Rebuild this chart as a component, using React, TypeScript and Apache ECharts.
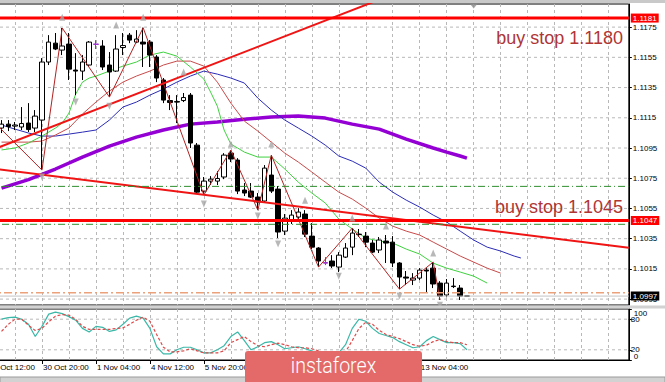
import React, { useEffect, useRef } from "react";
import * as echarts from "echarts";

// ---------- data ----------
const LEAD = 2; // two empty H4 slots before the first visible bar
const SLOTS = 96;
const MONTHS = ["Jan", "Feb", "Mar", "Apr", "May", "Jun", "Jul", "Aug", "Sep", "Oct", "Nov", "Dec"];

// EURUSD H4 bars: [open, high, low, close]
const bars: [number, number, number, number][] = [
  [1.11082, 1.11135, 1.11049, 1.11108], [1.11108, 1.11135, 1.11062, 1.11092], [1.11095, 1.11122, 1.11069, 1.11102],
  [1.11089, 1.11221, 1.11069, 1.11112], [1.11115, 1.11247, 1.11056, 1.11072], [1.11082, 1.11201, 1.11056, 1.11161],
  [1.11135, 1.11545, 1.10804, 1.11519], [1.11519, 1.11697, 1.11499, 1.11651], [1.11644, 1.11711, 1.11598, 1.11605],
  [1.11598, 1.11744, 1.11565, 1.11625], [1.11638, 1.11711, 1.11400, 1.11472], [1.11466, 1.11578, 1.11300, 1.11459],
  [1.11459, 1.11565, 1.11400, 1.11519], [1.11499, 1.11658, 1.11492, 1.11651], [1.11638, 1.11664, 1.11605, 1.11636],
  [1.11625, 1.11664, 1.11466, 1.11486], [1.11499, 1.11585, 1.11287, 1.11453], [1.11459, 1.11697, 1.11453, 1.11605],
  [1.11615, 1.11711, 1.11565, 1.11628], [1.11697, 1.11711, 1.11644, 1.11664], [1.11651, 1.11730, 1.11644, 1.11671],
  [1.11651, 1.11746, 1.11486, 1.11638], [1.11651, 1.11664, 1.11486, 1.11565], [1.11552, 1.11565, 1.11386, 1.11413],
  [1.11400, 1.11413, 1.11247, 1.11267], [1.11264, 1.11300, 1.11201, 1.11251], [1.11257, 1.11300, 1.11115, 1.11254],
  [1.11264, 1.11314, 1.11254, 1.11284], [1.11300, 1.11314, 1.10950, 1.10983], [1.10969, 1.10983, 1.10652, 1.10658],
  [1.10665, 1.10758, 1.10639, 1.10731], [1.10731, 1.10764, 1.10705, 1.10744], [1.10731, 1.10797, 1.10705, 1.10748],
  [1.10758, 1.10916, 1.10744, 1.10903], [1.10916, 1.10936, 1.10857, 1.10877], [1.10870, 1.10883, 1.10645, 1.10665],
  [1.10672, 1.10718, 1.10632, 1.10652], [1.10665, 1.10718, 1.10619, 1.10625], [1.10625, 1.10652, 1.10539, 1.10592],
  [1.10599, 1.10837, 1.10586, 1.10817], [1.10771, 1.10903, 1.10652, 1.10665], [1.10678, 1.10698, 1.10354, 1.10394],
  [1.10400, 1.10513, 1.10374, 1.10486], [1.10473, 1.10539, 1.10447, 1.10506], [1.10493, 1.10552, 1.10480, 1.10526],
  [1.10513, 1.10539, 1.10361, 1.10380], [1.10367, 1.10453, 1.10281, 1.10294], [1.10288, 1.10294, 1.10162, 1.10202],
  [1.10192, 1.10228, 1.10175, 1.10188], [1.10202, 1.10241, 1.10156, 1.10169], [1.10162, 1.10261, 1.10129, 1.10241],
  [1.10228, 1.10321, 1.10222, 1.10288], [1.10294, 1.10420, 1.10241, 1.10387], [1.10380, 1.10414, 1.10361, 1.10377],
  [1.10367, 1.10394, 1.10294, 1.10327], [1.10321, 1.10341, 1.10255, 1.10261], [1.10275, 1.10361, 1.10255, 1.10341],
  [1.10334, 1.10374, 1.10189, 1.10321], [1.10327, 1.10367, 1.10162, 1.10189], [1.10189, 1.10195, 1.10016, 1.10096],
  [1.10096, 1.10136, 1.10043, 1.10089], [1.10076, 1.10122, 1.10043, 1.10089], [1.10089, 1.10155, 1.10076, 1.10142],
  [1.10142, 1.10155, 1.09997, 1.10136], [1.10155, 1.10195, 1.10023, 1.10050], [1.10056, 1.10069, 1.09944, 1.09970],
  [1.09977, 1.10083, 1.09962, 1.10056], [1.10036, 1.10089, 1.10023, 1.10033], [1.10023, 1.10043, 1.09944, 1.09970],
  [1.09970, 1.09970, 1.09970, 1.09970],
];
const dojiBars = [14, 48];

// moving averages: [bar index, price]
const maPurple: [number, number][] = [
  [0, 1.10685], [4, 1.10741], [8, 1.10811], [12, 1.1089], [16, 1.10963], [20, 1.11022], [24, 1.11069], [28, 1.11108],
  [32, 1.11122], [36, 1.11141], [40, 1.11155], [44, 1.11161], [48, 1.11148], [52, 1.11108], [56, 1.11075], [60, 1.11009],
  [64, 1.1095], [66, 1.10923], [68, 1.10897], [69, 1.10883],
];
const jaw: [number, number][] = [
  [0, 1.11102], [2, 1.11075], [4, 1.11049], [6, 1.11029], [8, 1.11029], [10, 1.11042], [12, 1.11055], [14, 1.11069],
  [16, 1.11135], [18, 1.11221], [20, 1.11254], [22, 1.113], [24, 1.1134], [26, 1.11386], [28, 1.11426], [30, 1.11459],
  [32, 1.11439], [34, 1.11413], [36, 1.1138], [38, 1.1128], [40, 1.11201], [42, 1.11135], [44, 1.11082], [46, 1.11029],
  [48, 1.10969], [50, 1.10897], [52, 1.10863], [54, 1.10817], [56, 1.10724], [58, 1.10658], [60, 1.10605], [62, 1.10559],
  [64, 1.10506], [66, 1.1046], [68, 1.104], [70, 1.10341], [72, 1.10294], [74, 1.10268], [76, 1.10235], [77, 1.10222],
];
const teeth: [number, number][] = [
  [0, 1.10989], [2, 1.10989], [4, 1.10989], [6, 1.10996], [8, 1.11036], [10, 1.11082], [12, 1.11175], [14, 1.11254],
  [16, 1.11327], [18, 1.11386], [20, 1.11426], [22, 1.11459], [24, 1.11499], [26, 1.11525], [28, 1.11525], [30, 1.11492],
  [32, 1.11386], [34, 1.11247], [36, 1.11128], [38, 1.11062], [40, 1.10989], [42, 1.10916], [44, 1.10857], [46, 1.10791],
  [48, 1.10724], [50, 1.10658], [52, 1.10612], [54, 1.10552], [56, 1.10486], [58, 1.10433], [60, 1.104], [62, 1.10374],
  [64, 1.10327], [66, 1.10281], [68, 1.10235], [70, 1.10195], [72, 1.10155], [74, 1.10122],
];
const lips: [number, number][] = [
  [0, 1.10937], [2, 1.1095], [4, 1.10983], [6, 1.11029], [8, 1.11082], [9, 1.11115], [10, 1.11181], [11, 1.11307],
  [12, 1.11386], [13, 1.11413], [14, 1.11426], [16, 1.11459], [18, 1.11492], [20, 1.11519], [22, 1.11565], [24, 1.11585],
  [26, 1.11558], [28, 1.11486], [30, 1.11406], [31, 1.1132], [32, 1.11227], [33, 1.11069], [34, 1.10976], [35, 1.1095],
  [36, 1.10923], [38, 1.1089], [40, 1.1089], [42, 1.10811], [44, 1.10724], [46, 1.10652], [48, 1.10586], [50, 1.1048],
  [52, 1.10414], [54, 1.10354], [56, 1.10334], [58, 1.10321], [60, 1.10281], [62, 1.10248], [64, 1.10188], [66, 1.10155],
  [68, 1.10129], [70, 1.10102], [72, 1.10056],
];
const zigzag: [number, number][] = [
  [-2, 1.11161], [6, 1.10804], [9, 1.11744], [16, 1.11287], [21, 1.11746], [30, 1.10639], [34, 1.10936], [38, 1.10539],
  [40, 1.10903], [47, 1.10162], [52, 1.1042], [59, 1.10016], [64, 1.10195], [65, 1.09944],
];
const fractalsUp: [number, number][] = [
  [9, 1.11816], [17, 1.11764], [21, 1.11816], [27, 1.11453], [34, 1.10976], [40, 1.10976], [45, 1.10605],
  [52, 1.10486], [57, 1.10433], [64, 1.10255],
];
const fractalsDown: [number, number][] = [
  [6, 1.10758], [11, 1.11254], [16, 1.11227], [30, 1.10579], [38, 1.105], [41, 1.10314], [50, 1.10102],
  [59, 1.0997], [65, 1.0991],
];
const trendUp: [number, number][] = [[-2, 1.10927], [60, 1.12001]];
const trendDown: [number, number][] = [[-2, 1.10818], [93, 1.1029]];

const buyStopHigh = 1.1181;
const buyStopLow = 1.1047;
const greenLevels = [1.10696, 1.10445];
const orangeLevel = 1.09992;
const bidPrice = 1.0997;

const stochK = [
  80, 83, 84, 80, 70, 46, 66, 90, 94, 91, 85, 78, 62, 55, 66, 64, 56, 59, 70, 82, 86, 82, 62, 26, 12, 12, 20, 25, 25, 20,
  14, 14, 20, 28, 46, 55, 38, 20, 26, 34, 36, 30, 22, 24, 26, 22, 18, 10, 5, 6, 14, 30, 62, 80, 76, 62, 52, 48, 44, 36,
  30, 24, 26, 38, 46, 40, 34, 34, 32, 20,
];
const stochD = [
  56, 70, 80, 80, 68, 58, 62, 75, 86, 89, 88, 80, 66, 60, 60, 60, 60, 62, 63, 70, 78, 84, 76, 50, 25, 16, 16, 18, 22, 18,
  14, 14, 14, 18, 34, 40, 46, 36, 28, 26, 30, 33, 30, 26, 24, 24, 22, 18, 12, 8, 8, 16, 38, 62, 74, 70, 58, 50, 46, 42,
  36, 30, 27, 29, 36, 40, 36, 34, 34, 30,
];

const priceTicks = [1.0995, 1.1015, 1.1035, 1.1055, 1.1075, 1.1095, 1.1115, 1.1135, 1.1155, 1.1175];
const stochBounds = [0, 100];
const stochLevels = [20, 80];
const shiftSlot = 70;

// ---------- helpers ----------
function makeCategories(): string[] {
  const out: string[] = [];
  let t = Date.UTC(2019, 9, 29, 12);
  while (out.length < SLOTS) {
    const d = new Date(t);
    const wd = d.getUTCDay();
    if (wd !== 0 && wd !== 6) {
      out.push(`${d.getUTCDate()} ${MONTHS[d.getUTCMonth()]} ${String(d.getUTCHours()).padStart(2, "0")}:00`);
    }
    t += 4 * 3600 * 1000;
  }
  return out;
}
const toK = (pts: [number, number][]) => pts.map(([i, v]) => [i + LEAD, v]);
const across = (v: number) => [[0, v], [SLOTS - 1, v]];

const FONT = '"Liberation Sans", Arial, sans-serif';
const Y_MIN = 1.09911;
const Y_MAX = 1.11903;
const LAST_SLOT = LEAD + bars.length - 1;

function buildOption() {
  const cats = makeCategories();
  const candleData = cats.map((_, k) => {
    const b = bars[k - LEAD];
    if (!b) return "-";
    const [o, h, l, c] = b;
    const item: any = { value: [o, c, l, h] };
    if (dojiBars.includes(k - LEAD)) item.itemStyle = { color: "#9a32cd", borderColor: "#9a32cd", color0: "#9a32cd", borderColor0: "#9a32cd" };
    return item;
  });
  const gridLine = { show: true, interval: (i: number) => i % 4 === 0, lineStyle: { color: "#b8b8b8", type: [3, 3] as any, width: 1 } };
  const labelSlot = (i: number) => i % 8 === 0 && i <= LAST_SLOT;
  const boxLabel = (txt: string, bg: string) => ({
    show: true, distance: 2, formatter: txt, backgroundColor: bg, color: "#fff",
    fontSize: 8, fontFamily: FONT, lineHeight: 9, padding: [0, 2, 0, 2],
  });
  const line = (name: string, data: any[], color: string, width: number, z: number, extra: any = {}) => ({
    name, type: "line", xAxisIndex: 0, yAxisIndex: 0, data, symbol: "none", z, silent: true,
    lineStyle: { color, width }, ...extra,
  });
  const level = (name: string, v: number, color: string, width: number, type: any, z: number, label?: any) =>
    line(name, across(v), color, width, z, {
      lineStyle: { color, width, type },
      ...(label ? { endLabel: label } : {}),
    });
  const stochAxis = (values: number[], extra: any = {}) => ({
    type: "value", gridIndex: 1, position: "right", min: 0, max: 100,
    axisLine: { show: true, lineStyle: { color: "#000" } },
    axisTick: { show: true, customValues: values, length: 3, lineStyle: { color: "#000" } },
    axisLabel: { customValues: values, fontSize: 8, fontFamily: FONT, color: "#000", margin: 3, showMinLabel: true, showMaxLabel: true, ...extra },
    splitLine: { show: false },
  });

  return {
    animation: false,
    backgroundColor: "#ffffff",
    grid: [
      { left: -11.98, right: 36.18, top: 4, height: 301, show: true, borderColor: "#000", borderWidth: 1, outerBoundsMode: "none", containLabel: false },
      { left: -11.98, right: 36.18, top: 309, height: 51, show: true, borderColor: "#000", borderWidth: 1, outerBoundsMode: "none", containLabel: false },
    ],
    xAxis: [
      {
        type: "category", gridIndex: 0, data: cats, boundaryGap: false,
        axisLine: { show: false }, axisTick: { show: false }, axisLabel: { show: false }, splitLine: gridLine,
      },
      {
        type: "category", gridIndex: 1, data: cats, boundaryGap: false,
        axisLine: { show: true, lineStyle: { color: "#000" } },
        axisTick: { show: true, interval: labelSlot, length: 4, lineStyle: { color: "#000" } },
        axisLabel: { show: true, interval: labelSlot, align: "left", fontSize: 8, fontFamily: FONT, color: "#000", margin: 3, padding: [0, 0, 0, 1] },
        splitLine: gridLine,
      },
    ],
    yAxis: [
      {
        type: "value", gridIndex: 0, position: "right", min: Y_MIN, max: Y_MAX,
        axisLine: { show: true, lineStyle: { color: "#000" } },
        axisTick: { show: true, customValues: priceTicks, length: 3, lineStyle: { color: "#000" } },
        axisLabel: { customValues: priceTicks, formatter: (v: number) => v.toFixed(4), fontSize: 8, fontFamily: FONT, color: "#000", margin: 4 },
        splitLine: { show: false },
      },
      stochAxis(stochLevels, { margin: 2 }),
      stochAxis(stochBounds, { margin: 5, verticalAlignMaxLabel: "top", verticalAlignMinLabel: "bottom" }),
    ],
    series: [
      // horizontal price grid
      ...priceTicks.map((v) => level("grid" + v, v, "#b8b8b8", 1, [3, 3], 1)),
      line("MA200", toK(maPurple), "#9400d3", 3.5, 2),
      line("Jaw", toK(jaw), "#2b2bb5", 1, 2),
      line("Teeth", toK(teeth), "#c84a4a", 1, 2),
      line("Lips", toK(lips), "#3fd13f", 1, 2),
      {
        name: "EURUSD", type: "candlestick", xAxisIndex: 0, yAxisIndex: 0, data: candleData, barWidth: 5, z: 3, silent: true,
        itemStyle: { color: "#ffffff", color0: "#000000", borderColor: "#000000", borderColor0: "#000000", borderWidth: 1 },
      },
      line("ZigZag", toK(zigzag), "#b22222", 1, 4),
      line("TrendUp", toK(trendUp), "#f01414", 2, 5),
      line("TrendDown", toK(trendDown), "#f01414", 2, 5),
      // horizontal levels
      level("orange", orangeLevel, "#eba27a", 1.6, [8, 3, 2, 3], 5),
      level("bid", bidPrice, "#c4c4c4", 1, "solid", 5, boxLabel(bidPrice.toFixed(4), "#000000")),
      ...greenLevels.map((v) => level("green" + v, v, "#2f8f2f", 1, [7, 3, 1, 3], 5)),
      level("bs1", buyStopHigh, "#ff0000", 3, "solid", 6, boxLabel(buyStopHigh.toFixed(4), "#ff0000")),
      level("bs2", buyStopLow, "#ff0000", 3, "solid", 6, boxLabel(buyStopLow.toFixed(4), "#ff0000")),
      {
        name: "FractalUp", type: "scatter", xAxisIndex: 0, yAxisIndex: 0, data: toK(fractalsUp), z: 6, silent: true,
        symbol: "triangle", symbolSize: [6, 7], itemStyle: { color: "#a6a6a6" },
      },
      {
        name: "FractalDown", type: "scatter", xAxisIndex: 0, yAxisIndex: 0, data: toK(fractalsDown), z: 6, silent: true,
        symbol: "triangle", symbolRotate: 180, symbolSize: [6, 7], itemStyle: { color: "#a6a6a6" }, clip: false,
      },
      {
        name: "Shift", type: "scatter", xAxisIndex: 0, yAxisIndex: 0, data: [[shiftSlot + LEAD, Y_MAX]], z: 6, silent: true,
        symbol: "triangle", symbolRotate: 180, symbolSize: [8, 5], symbolOffset: [0, 2], itemStyle: { color: "#8c8c8c" }, clip: false,
      },
      // stochastic
      ...stochLevels.map((v) => ({
        name: "lvl" + v, type: "line", xAxisIndex: 1, yAxisIndex: 1, symbol: "none", silent: true, z: 1,
        data: across(v), lineStyle: { color: "#b8b8b8", type: [3, 3], width: 1 },
      })),
      {
        name: "%K", type: "line", xAxisIndex: 1, yAxisIndex: 1, symbol: "none", silent: true, z: 3,
        data: stochK.map((v, i) => [i + LEAD, v]), lineStyle: { color: "#3bb8a8", width: 1.2 },
      },
      {
        name: "%D", type: "line", xAxisIndex: 1, yAxisIndex: 1, symbol: "none", silent: true, z: 3,
        data: stochD.map((v, i) => [i + LEAD, v]), lineStyle: { color: "#e04a4a", width: 1.2, type: [3, 2] },
      },
    ],
    graphic: [
      { type: "rect", z: 100, shape: { x: 0, y: 0, width: 665, height: 3 }, style: { fill: "#c9c9c9" } },
      { type: "rect", z: 100, shape: { x: 0, y: 305.5, width: 665, height: 3 }, style: { fill: "#d2d2d2" } },
      { type: "rect", z: 100, shape: { x: 0, y: 377, width: 665, height: 6 }, style: { fill: "#d2d2d2", stroke: "#9a9a9a", lineWidth: 1 } },
      {
        type: "text", z: 100, x: 623, y: 37.8,
        style: { text: "buy stop 1.1180", font: `18px ${FONT}`, fill: "#b03535", align: "right", textAlign: "right", verticalAlign: "middle", textVerticalAlign: "middle" },
      },
      {
        type: "text", z: 100, x: 623, y: 207,
        style: { text: "buy stop 1.1045", font: `18px ${FONT}`, fill: "#b03535", align: "right", textAlign: "right", verticalAlign: "middle", textVerticalAlign: "middle" },
      },
      { type: "rect", z: 110, shape: { x: 245, y: 351, width: 177, height: 40, r: 3 }, style: { fill: "#e46a6a" } },
      {
        type: "text", z: 111, x: 333.5, y: 365.7, scaleX: 0.89,
        style: { text: "instaforex", font: "300 22px Roboto, sans-serif", fill: "#ffffff", align: "center", textAlign: "center", verticalAlign: "middle", textVerticalAlign: "middle" },
      },
    ],
  };
}

export default function App() {
  const ref = useRef<HTMLDivElement>(null);
  useEffect(() => {
    document.body.style.margin = "0";
    const chart = echarts.init(ref.current!, undefined, { renderer: "svg" });
    chart.setOption(buildOption() as any);
    return () => chart.dispose();
  }, []);
  return <div ref={ref} style={{ width: 665, height: 382, background: "#fff" }} />;
}
